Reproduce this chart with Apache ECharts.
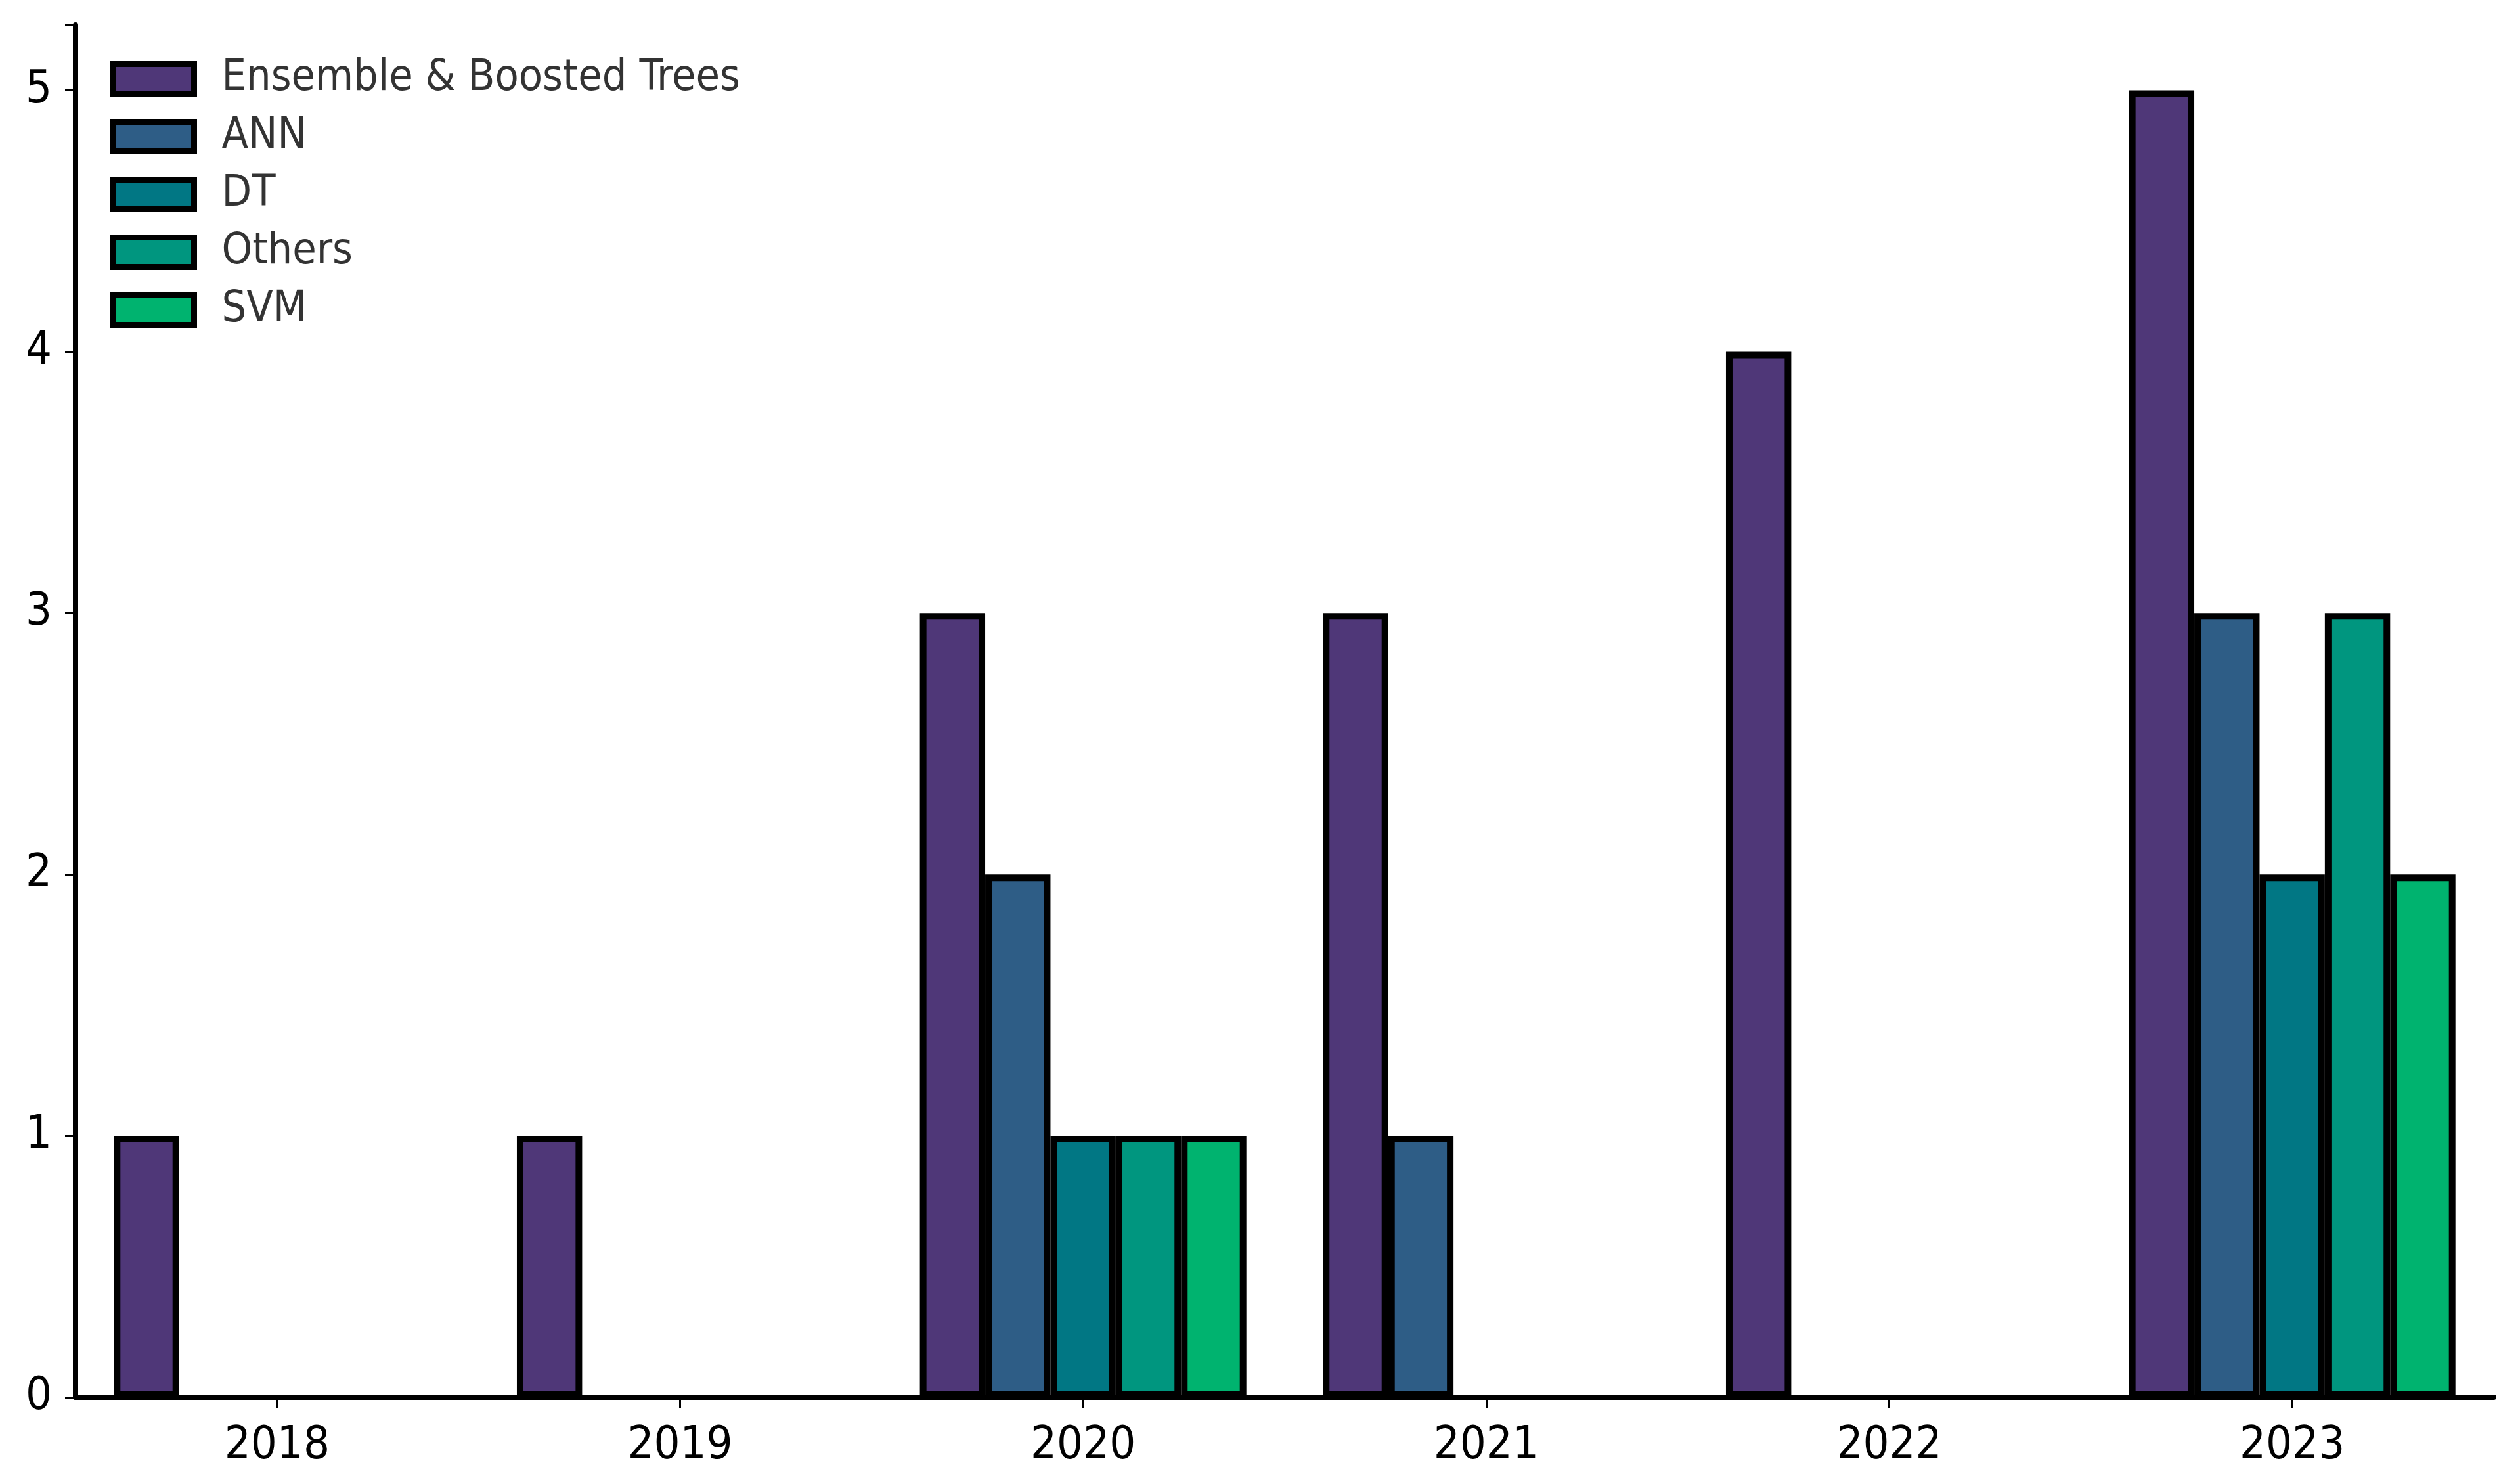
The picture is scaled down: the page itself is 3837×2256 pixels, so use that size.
<!DOCTYPE html>
<html><head><meta charset="utf-8">
<script src="https://cdn.jsdelivr.net/npm/echarts@6/dist/echarts.min.js"></script>
<style>html,body{margin:0;padding:0;background:#fff}#c{width:3837px;height:2256px}</style>
</head><body><div id="c"></div>
<script>
const years = ['2018','2019','2020','2021','2022','2023'];
const seriesNames = ['Ensemble & Boosted Trees','ANN','DT','Others','SVM'];
const ensemble = [1,1,3,3,4,5];
const ann = [0,0,2,1,0,3];
const dt = [0,0,1,0,0,2];
const others = [0,0,1,0,0,3];
const svm = [0,0,1,0,0,2];
const colors = ['#4f3778','#2e5d86','#017784','#00967f','#00b36f'];
const yTicks = [0,1,2,3,4,5];

const allData = [ensemble, ann, dt, others, svm];
const font = "'DejaVu Sans Condensed','DejaVu Sans',sans-serif";
const chart = echarts.init(document.getElementById('c'));
chart.setOption({
  animation: false,
  backgroundColor: '#fff',
  grid: {left: 115, top: 38, width: 3682, height: 2089},
  legend: {
    orient: 'vertical', left: 162, top: 82,
    itemWidth: 124, itemHeight: 45, itemGap: 22,
    icon: 'rect',
    itemStyle: {borderColor: '#000', borderWidth: 9},
    textStyle: {fontFamily: font, fontSize: 66, color: '#333', padding: [0,0,0,37]},
    data: seriesNames
  },
  xAxis: {
    type: 'category', data: years,
    axisLine: {show: true, lineStyle: {color: '#000', width: 8}},
    axisTick: {show: true, alignWithLabel: true, length: 16, lineStyle: {color: '#000', width: 3}},
    axisLabel: {fontFamily: font, fontSize: 70, color: '#000', margin: 40},
    splitLine: {show: false}
  },
  yAxis: {
    type: 'value', min: 0, max: 5.25, interval: 1,
    axisLine: {show: true, lineStyle: {color: '#000', width: 8}},
    axisTick: {show: true, length: 16, lineStyle: {color: '#000', width: 3}},
    axisLabel: {fontFamily: font, fontSize: 70, color: '#000', margin: 36,
      formatter: v => (yTicks.indexOf(v) >= 0 ? String(v) : '')},
    splitLine: {show: false}
  },
  series: seriesNames.map((n, i) => ({
    name: n, type: 'bar',
    data: allData[i].map(v => v === 0 ? '-' : v),
    barWidth: '16.2%', barGap: '0%',
    itemStyle: {color: colors[i], borderColor: '#000', borderWidth: 10}
  }))
});
</script></body></html>
